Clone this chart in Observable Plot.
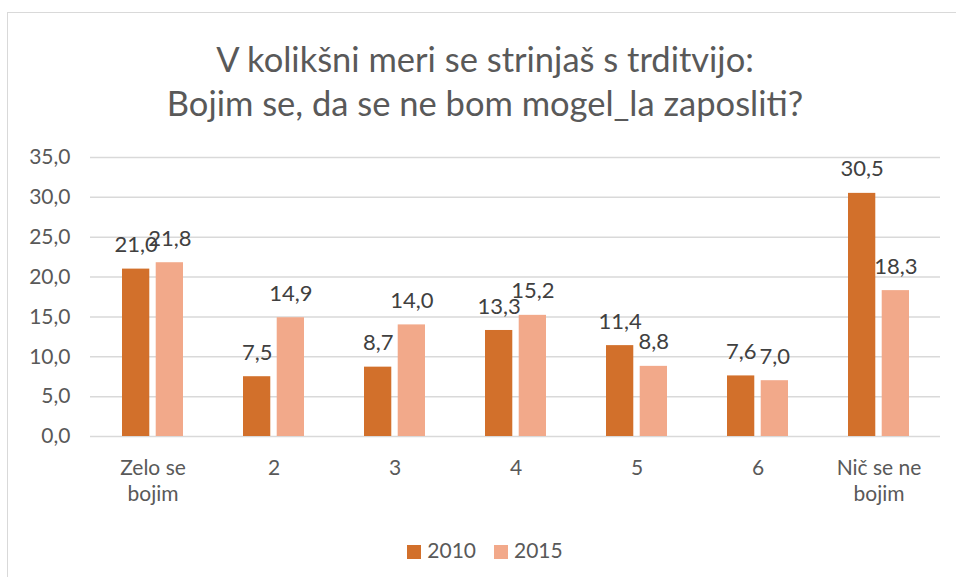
<!DOCTYPE html>
<html>
<head>
<meta charset="utf-8">
<script src="https://cdn.jsdelivr.net/npm/d3@7"></script>
<script src="https://cdn.jsdelivr.net/npm/@observablehq/plot@0.6"></script>
<style>
  html, body { margin: 0; padding: 0; background: #fff; width: 956px; height: 577px; overflow: hidden; }
  body { font-family: Lato, "Open Sans", sans-serif; color: #595959; position: relative; }
  #frame { position: absolute; left: 7px; top: 12px; width: 970px; height: 600px; border-left: 1px solid #d9d9d9; border-top: 1px solid #d9d9d9; }
  #title { position: absolute; left: 0; top: 37px; width: 970px; text-align: center; font-size: 34.5px; line-height: 44px; color: #595959; }
  #chart { position: absolute; left: 0; top: 140px; }
  #legend { position: absolute; left: 0; top: 537px; width: 970px; text-align: center; font-size: 21px; color: #595959; }
  #legend span.sw { display: inline-block; width: 14px; height: 14px; margin-right: 6px; vertical-align: -1px; }
  #legend span.item { margin: 0 9px; }
</style>
</head>
<body>
<div id="frame"></div>
<div id="title">V kolikšni meri se strinjaš s trditvijo:<br>Bojim se, da se ne bom mogel_la zaposliti?</div>
<div id="chart"></div>
<div id="legend"></div>
<script>
const categories = ["Zelo se\nbojim", "2", "3", "4", "5", "6", "Nič se ne\nbojim"];
const years = ["2010", "2015"];
const values2010 = [21.0, 7.5, 8.7, 13.3, 11.4, 7.6, 30.5];
const values2015 = [21.8, 14.9, 14.0, 15.2, 8.8, 7.0, 18.3];
const yTicks = [0, 5, 10, 15, 20, 25, 30, 35];
const colors = ["#D2702B", "#F2A98A"];

const data2010 = categories.map((c, i) => ({cat: c, year: years[0], value: values2010[i]}));
const data2015 = categories.map((c, i) => ({cat: c, year: years[1], value: values2015[i]}));

const fmt = v => d3.format(".1f")(v).replace(".", ",");

// group band ~61px: two bars of 27px with a 7px gap
const groupBand = 850 / 7 * 0.5;
const barW = 27;
const inset = groupBand - barW;
const shift = (groupBand - barW) / 2;

const chart = Plot.plot({
  width: 956,
  height: 375,
  marginTop: 17,
  marginBottom: 79,
  marginLeft: 90,
  marginRight: 16,
  style: { fontFamily: "Lato, 'Open Sans', sans-serif", fontSize: "21px", color: "#595959", background: "transparent" },
  x: { domain: categories, paddingInner: 0.5, paddingOuter: 0.25, label: null },
  y: { domain: [0, 35], ticks: yTicks, label: null },
  marks: [
    Plot.gridY(yTicks, { stroke: "#d9d9d9", strokeOpacity: 1, strokeWidth: 1.5 }),
    Plot.axisY(yTicks, { tickSize: 0, tickPadding: 20, tickFormat: fmt, fontSize: 21, fill: "#595959", label: null }),
    Plot.axisX({ tickSize: 0, tickPadding: 19, fontSize: 21, fill: "#595959", lineHeight: 1.28, label: null }),
    Plot.barY(data2010, { x: "cat", y: "value", fill: colors[0], insetRight: inset }),
    Plot.barY(data2015, { x: "cat", y: "value", fill: colors[1], insetLeft: inset }),
    Plot.text(data2010, { x: "cat", y: "value", text: d => fmt(d.value), dx: -shift, dy: -24, fontSize: 22, fill: "#404040" }),
    Plot.text(data2015, { x: "cat", y: "value", text: d => fmt(d.value), dx: shift, dy: -24, fontSize: 22, fill: "#404040" })
  ]
});
document.getElementById("chart").appendChild(chart);

const legend = document.getElementById("legend");
years.forEach((y, i) => {
  const item = document.createElement("span");
  item.className = "item";
  const sw = document.createElement("span");
  sw.className = "sw";
  sw.style.background = colors[i];
  item.appendChild(sw);
  item.appendChild(document.createTextNode(y));
  legend.appendChild(item);
});
</script>
</body>
</html>
